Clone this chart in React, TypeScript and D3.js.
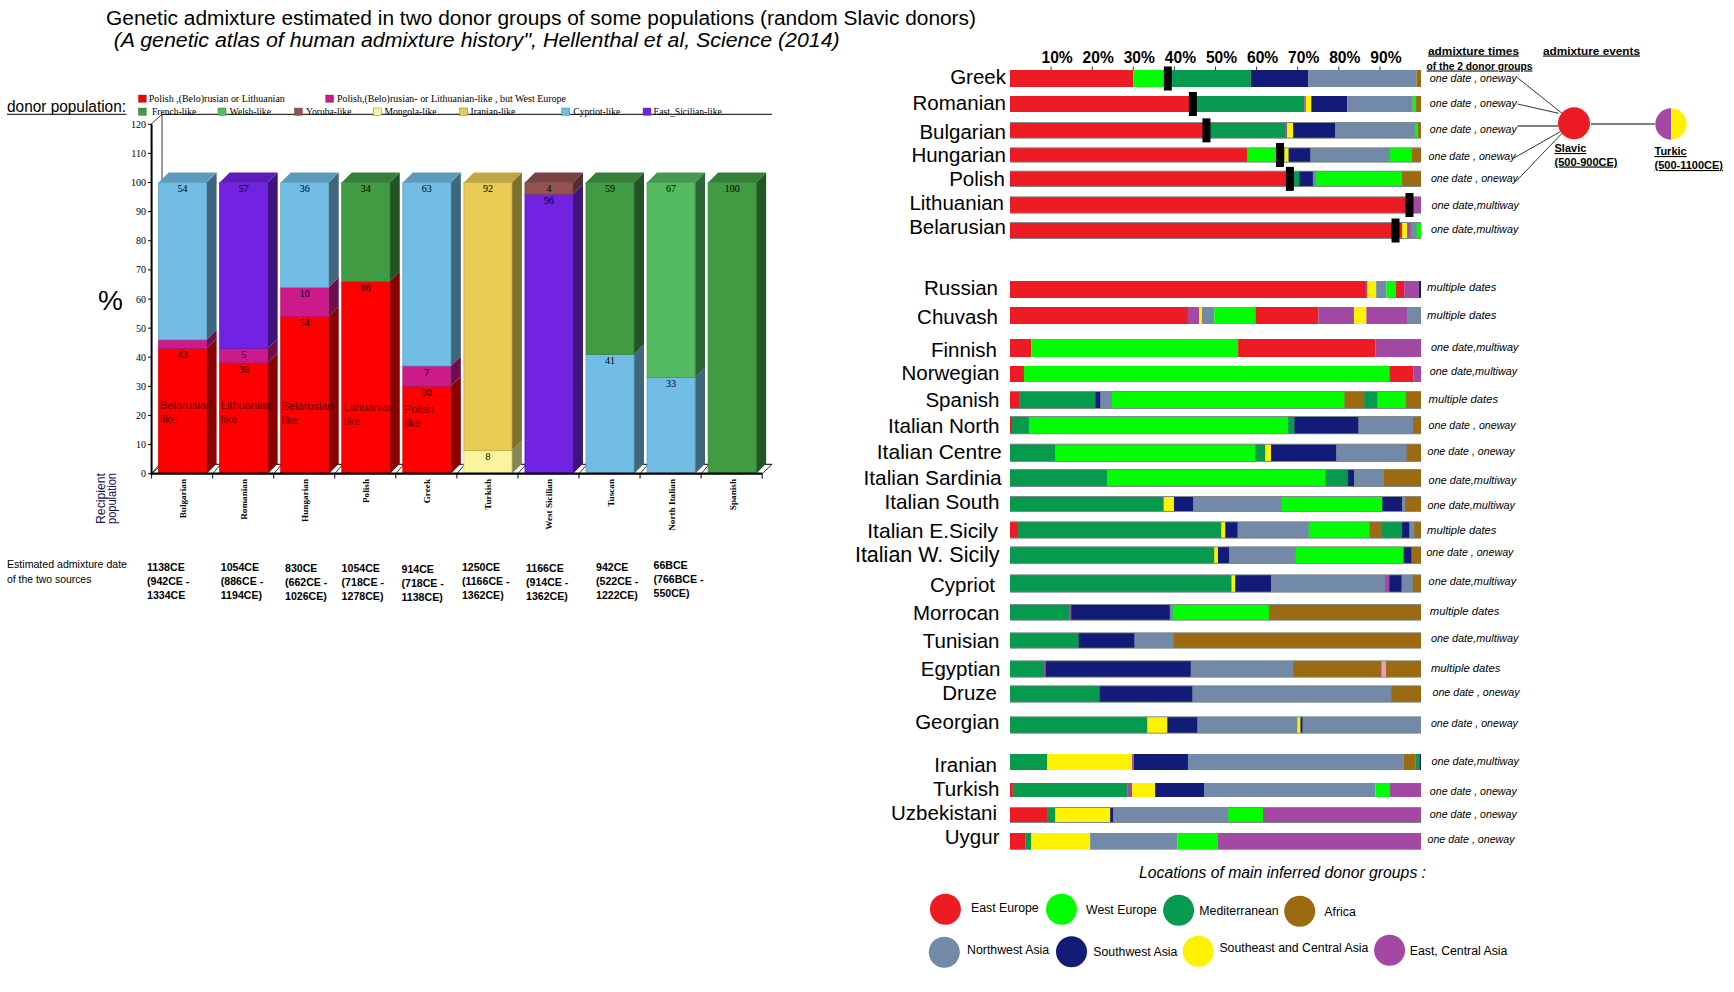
import React from "react";
import * as d3 from "d3";

// ---------- LEFT CHART DATA ----------
const recipients = ["Bulgarian","Romanian","Hungarian","Polish","Greek","Turkish","West Sicilian","Tuscan","North Italian","Spanish"];
const donorColors: Record<string,string> = {
  polish:"#FF0000", polishWest:"#CC1A8B", french:"#409B42", welsh:"#53BA5F", yoruba:"#945252",
  mongola:"#F8F59C", iranian:"#E8CB54", cypriot:"#71BDE6", sicilian:"#7122E2",
};
const stackBulgarian: [string,number,boolean][] = [["polish",43,true],["polishWest",3,false],["cypriot",54,true]];
const stackRomanian: [string,number,boolean][] = [["polish",38,true],["polishWest",5,true],["sicilian",57,true]];
const stackHungarian: [string,number,boolean][] = [["polish",54,true],["polishWest",10,true],["cypriot",36,true]];
const stackPolish: [string,number,boolean][] = [["polish",66,true],["french",34,true]];
const stackGreek: [string,number,boolean][] = [["polish",30,true],["polishWest",7,true],["cypriot",63,true]];
const stackTurkish: [string,number,boolean][] = [["mongola",8,true],["iranian",92,true]];
const stackWestSicilian: [string,number,boolean][] = [["sicilian",96,true],["yoruba",4,true]];
const stackTuscan: [string,number,boolean][] = [["cypriot",41,true],["french",59,true]];
const stackNorthItalian: [string,number,boolean][] = [["cypriot",33,true],["welsh",67,true]];
const stackSpanish: [string,number,boolean][] = [["french",100,true]];
const stacks = [stackBulgarian,stackRomanian,stackHungarian,stackPolish,stackGreek,stackTurkish,stackWestSicilian,stackTuscan,stackNorthItalian,stackSpanish];
const yTicks = [0,10,20,30,40,50,60,70,80,90,100,110,120];

const likeLabels: [string,number,number][] = [["Belarusian",160,405],["Lithuanian",220.8,405],["Belarusian",281.7,406],["Lithuanian",343.8,407],["Polish",404,409]];
const dateTexts = [
  ["1138CE","(942CE -","1334CE"],["1054CE","(886CE -","1194CE)"],["830CE","(662CE -","1026CE)"],
  ["1054CE","(718CE -","1278CE)"],["914CE","(718CE -","1138CE)"],["1250CE","(1166CE -","1362CE)"],
  ["1166CE","(914CE -","1362CE)"],["942CE","(522CE -","1222CE)"],["66BCE","(766BCE -","550CE)"],
];
const dateX = [147,220.8,285,341.6,401.5,461.9,526,596,653.5];
const dateY = [567.3,567.3,568,568,569.3,567.3,568,567.3,565.3];
const legendRow1: [string,string,number,number,number][] = [
  ["polish","Polish ,(Belo)rusian  or Lithuanian",138.4,148.8,136],
  ["polishWest","Polish,(Belo)rusian- or Lithuanian-like , but West Europe",325.7,337,229],
];
const legendRow2: [string,string,number,number][] = [
  ["french","French-like",138.4,152],["welsh","Welsh-like",218,229.6],["yoruba","Yoruba-like",294.4,306],
  ["mongola","Mongola-like",373.4,384.4],["iranian","Iranian-like",459.7,470.6],["cypriot","Cypriot-like",561.8,573.3],
  ["sicilian","East_Sicilian-like",643,653.5],
];

// ---------- RIGHT CHART DATA (cumulative % end of each block) ----------
const groupColors: Record<string,string> = {
  EE:"#ED1C24", WE:"#00FF00", ME:"#069A4E", AF:"#9C6A10", NW:"#7389A8", SW:"#121C78", SE:"#FFF200", EC:"#A349A4", PK:"#F09AC0",
};
type Stop = [string, number];
const greek: Stop[] = [["EE",30],["WE",38.4],["ME",58.6],["SW",72.6],["NW",98.9],["AF",100]];
const romanian: Stop[] = [["EE",44.5],["ME",71.6],["EC",72],["SE",73.3],["SW",82.1],["NW",98],["WE",98.8],["AF",100]];
const bulgarian: Stop[] = [["EE",47.8],["ME",67],["EC",67.4],["SE",68.9],["SW",79.1],["NW",98.5],["WE",99.3],["AF",100]];
const hungarian: Stop[] = [["EE",57.7],["WE",65.7],["ME",66.8],["SE",67.8],["SW",73.1],["NW",92.4],["WE",97.8],["AF",100]];
const polish: Stop[] = [["EE",68.1],["ME",70.4],["SW",73.7],["NW",74.5],["WE",95.4],["AF",100]];
const lithuanian: Stop[] = [["EE",98],["EC",100]];
const belarusian: Stop[] = [["EE",95.4],["SE",96.6],["EC",97.5],["NW",98.9],["WE",100]];
const russian: Stop[] = [["EE",86.6],["EC",87],["SE",89.1],["NW",91.6],["WE",93.8],["EE",95.9],["EC",99.5],["SW",100]];
const chuvash: Stop[] = [["EE",43.3],["EC",46],["SE",46.7],["NW",49.7],["WE",59.7],["EE",75],["EC",83.7],["SE",86.7],["EC",96.6],["NW",100]];
const finnish: Stop[] = [["EE",5.2],["WE",55.5],["EE",88.9],["EC",100]];
const norwegian: Stop[] = [["EE",3.4],["WE",92.3],["EE",98.1],["EC",100]];
const spanish: Stop[] = [["EE",2.3],["ME",20.8],["SW",22],["NW",24.8],["WE",81.4],["AF",86.2],["ME",89.4],["WE",96.3],["AF",100]];
const italianNorth: Stop[] = [["EE",0.5],["ME",4.6],["WE",67.7],["ME",69.2],["SW",84.8],["NW",98.1],["AF",100]];
const italianCentre: Stop[] = [["ME",11],["WE",59.7],["ME",62.1],["SE",63.5],["SW",79.4],["NW",96.5],["AF",100]];
const italianSardinia: Stop[] = [["ME",23.6],["WE",76.8],["ME",82.2],["SW",83.7],["NW",91],["AF",100]];
const italianSouth: Stop[] = [["ME",37.4],["SE",39.9],["SW",44.6],["NW",66.1],["WE",90.6],["SW",95.4],["NW",96.2],["AF",100]];
const italianESicily: Stop[] = [["EE",2],["ME",51.4],["SE",52.4],["SW",55.4],["NW",72.7],["WE",87.5],["AF",90.4],["ME",95.4],["SW",97.2],["NW",98.4],["AF",100]];
const italianWSicily: Stop[] = [["ME",49.7],["SE",50.6],["SW",53.3],["NW",69.5],["WE",95.8],["SW",97.7],["AF",100]];
const cypriot: Stop[] = [["ME",53.9],["SE",54.8],["SW",63.5],["NW",91.3],["EC",92.3],["SW",95.3],["NW",98],["AF",100]];
const morrocan: Stop[] = [["ME",14.5],["EC",14.9],["SW",38.9],["NW",39.6],["WE",63],["AF",100]];
const tunisian: Stop[] = [["ME",16.7],["SW",30.3],["NW",39.8],["AF",100]];
const egyptian: Stop[] = [["ME",8.3],["EC",8.7],["SW",44],["NW",68.9],["AF",90.4],["PK",91.5],["AF",100]];
const druze: Stop[] = [["ME",21.8],["SW",44.4],["NW",92.8],["AF",100]];
const georgian: Stop[] = [["ME",33.4],["SE",38.3],["SW",45.6],["NW",69.9],["SE",70.7],["SW",71.2],["NW",100]];
const iranian: Stop[] = [["ME",9],["SE",29.7],["EC",30.1],["SW",43.3],["NW",95.7],["AF",98.6],["ME",99.6],["SW",100]];
const turkish: Stop[] = [["EE",0.7],["ME",28.5],["EC",29.7],["SE",35.3],["SW",47.2],["NW",88.9],["WE",92.3],["EC",100]];
const uzbekistani: Stop[] = [["EE",9.1],["ME",11],["SE",24.4],["SW",25.1],["NW",53.1],["WE",61.6],["EC",100]];
const uygur: Stop[] = [["EE",3.7],["ME",5.2],["SE",19.5],["NW",40.7],["WE",50.6],["EC",100]];

const populations = ["Greek","Romanian","Bulgarian","Hungarian","Polish","Lithuanian","Belarusian","Russian","Chuvash","Finnish","Norwegian","Spanish","Italian North","Italian Centre","Italian Sardinia","Italian South","Italian E.Sicily","Italian W. Sicily","Cypriot","Morrocan","Tunisian","Egyptian","Druze","Georgian","Iranian","Turkish","Uzbekistani","Uygur"];
const popStops = [greek,romanian,bulgarian,hungarian,polish,lithuanian,belarusian,russian,chuvash,finnish,norwegian,spanish,italianNorth,italianCentre,italianSardinia,italianSouth,italianESicily,italianWSicily,cypriot,morrocan,tunisian,egyptian,druze,georgian,iranian,turkish,uzbekistani,uygur];
const ONE = "one date , oneway", MUL = "one date,multiway", MD = "multiple dates";
const popTimes = [ONE,ONE,ONE,ONE,ONE,MUL,MUL,MD,MD,MUL,MUL,MD,ONE,ONE,MUL,MUL,MD,ONE,MUL,MD,MUL,MD,ONE,ONE,MUL,ONE,ONE,ONE];
const timeWidth: Record<string,number> = { [ONE]:87, [MUL]:87.5, [MD]:69.5 };
const markers = [38.4,44.5,47.8,65.7,68.1,97.2,93.8];
const pctTicks = [10,20,30,40,50,60,70,80,90];

// layout of the irregular rows
const rowTop = [70,96,122,147.3,170.7,196.3,222,281,307,339,366,391,416,443.7,469,496,521.3,546.3,574.3,604,632.3,660.3,685.3,716.3,754,783,807,833];
const rowBottom = [87,112,138.7,162.7,187,213.7,239,298,324,357,382,409,434.3,462,487,512,538.7,564,592.7,620.7,648.7,677.7,702.7,733.7,770,797,823,849.7];
const rowEdged = [false,false,true,true,true,true,true,false,false,false,false,true,true,true,true,true,true,true,true,true,true,true,true,true,false,false,true,false];
const labelRight = [1006,1006,1006,1006,1005,1004,1006,998,998,997,999.5,999.5,999.5,1001.7,1001.7,999.5,998,999.5,995,999.5,999.5,1000.5,997,999.5,997,999.5,997,999.5];
const labelSize = [20.5,20.5,20.5,20.5,20.5,20.5,20.5,20.5,20.5,20.5,20.5,20.5,20.7,21,20.9,20.7,21,21.5,20.5,20.5,20.5,20.5,20.5,20.5,20.5,20.5,20.5,20.5];
const labelY = [77,103,132,155,179,203,227,288,317,350,373,400,426,452,478,502,531,555,585,613,641,669,693,722,765,789,813,837];
const timeX = [1429.8,1429.8,1429.8,1428.6,1430.9,1431.4,1430.9,1427,1427,1430.9,1429.8,1428.6,1428.6,1427.5,1428.6,1427.5,1427,1426.4,1428.6,1429.8,1430.9,1430.9,1432.5,1430.9,1431.4,1429.8,1429.8,1427.5];
const timeY = [77.7,102.7,128.7,155.7,177.7,204.7,228.7,287.3,315.3,347.3,371.3,399.3,425.3,451.3,480.3,504.7,530.3,552.3,581.3,611.3,638.3,668.3,691.7,723.3,761.3,791.3,814.3,839.3];
const spokes: [number,number,number,number][] = [
  [1517.4,77.7,1562,113.3],[1517.4,104,1558.6,113.3],[1517.4,126,1558.6,126],[1514,158,1560.3,131.7],[1515.7,181.7,1562,133.3],
];
const donorLegend: [string,string,number,number,number,number][] = [
  ["EE","East Europe",945.4,909.3,971,907.7],["WE","West Europe",1061.5,909.3,1086,909.7],["ME","Mediterranean",1178.6,910.3,1199.3,910.7],["AF","Africa",1299.7,911.3,1324.3,911.7],
  ["NW","Northwest Asia",944.3,952.3,967.1,949.7],["SW","Southwest Asia",1071.5,951.7,1093.3,951.7],["SE","Southeast and Central Asia",1198.2,951.3,1219.4,947.7],["EC","East, Central Asia",1389.6,950.3,1409.7,950.7],
];

const SANS = "'Liberation Sans', Arial, sans-serif";
const SERIF = "'Liberation Serif', 'Times New Roman', serif";

const barY = d3.scaleLinear().domain([0,120]).range([473.7,124.3]);
const barX = d3.scaleBand<string>().domain(recipients).range([151.6,762.2]);
const pctX = d3.scaleLinear().domain([0,100]).range([1010,1421]);

const BAR_INSET = 7, BAR_W = 48, DX = 10, DY = 10;

function Bar3D({ name, stack }: { name: string; stack: [string,number,boolean][] }) {
  const x0 = (barX(name) as number) + BAR_INSET;
  const x1 = x0 + BAR_W;
  const ends = d3.cumsum(stack.map(s => s[1]));
  return (
    <g>
      {stack.map(([key,val,showLabel],i) => {
        const yB = barY(ends[i]-val), yT = barY(ends[i]);
        const base = d3.rgb(donorColors[key]);
        const side = base.darker(1.7).formatHex();
        const edge = base.darker(0.5).formatHex();
        return (
          <g key={i}>
            <path d={`M${x1},${yB}L${x1+DX},${yB-DY}L${x1+DX},${yT-DY}L${x1},${yT}Z`} fill={side} />
            <rect x={x0} y={yT} width={BAR_W} height={yB-yT} fill={donorColors[key]} stroke={edge} strokeWidth={0.8} />
            {i===stack.length-1 && (
              <path d={`M${x0},${yT}L${x0+DX},${yT-DY}L${x1+DX},${yT-DY}L${x1},${yT}Z`} fill={base.darker(0.55).formatHex()} />
            )}
            {showLabel && <text x={(x0+x1)/2} y={yT+9.8} textAnchor="middle" fontFamily={SERIF} fontSize={10}>{val}</text>}
          </g>
        );
      })}
    </g>
  );
}

export default function App() {
  return (
    <svg width={1734} height={992} style={{ position:"absolute", left:0, top:0, display:"block", background:"#fff" }}>
      {/* Titles */}
      <text x={106} y={25} fontFamily={SANS} fontSize={20} textLength={870} lengthAdjust="spacingAndGlyphs">Genetic admixture estimated in two donor groups of some populations (random Slavic donors)</text>
      <text x={113.7} y={47} fontFamily={SANS} fontSize={20} fontStyle="italic" textLength={726} lengthAdjust="spacingAndGlyphs">(A genetic atlas of human admixture history", Hellenthal et al, Science (2014)</text>

      {/* Left chart frame */}
      <text x={7} y={112} fontFamily={SANS} fontSize={16} textLength={119} lengthAdjust="spacingAndGlyphs">donor population:</text>
      <line x1={7} x2={126.5} y1={114.3} y2={114.3} stroke="#000" />
      <line x1={162} x2={772} y1={114.3} y2={114.3} stroke="#000" />
      <line x1={162} x2={162} y1={114.3} y2={182.5} stroke="#000" strokeWidth={0.8} />
      <line x1={151} x2={162} y1={124.3} y2={114.3} stroke="#000" strokeWidth={0.8} />
      <line x1={158} x2={772} y1={464.3} y2={464.3} stroke="#000" strokeWidth={1} />
      <line x1={151.6} x2={162} y1={473.7} y2={464.3} stroke="#000" strokeWidth={0.8} />
      <line x1={762.2} x2={772} y1={473.7} y2={464.3} stroke="#000" strokeWidth={0.8} />
      {recipients.map(r => {
        const x = barX(r) as number;
        return <line key={r} x1={x} x2={x+8} y1={473.7} y2={464.3} stroke="#000" strokeWidth={0.8} />;
      })}

      {recipients.map((r,i) => <Bar3D key={r} name={r} stack={stacks[i]} />)}

      {/* Axes */}
      <line x1={151.6} x2={151.6} y1={barY(120)} y2={barY(0)+1} stroke="#000" strokeWidth={2} />
      <line x1={150.6} x2={762.2} y1={barY(0)} y2={barY(0)} stroke="#000" strokeWidth={2.2} />
      {yTicks.map(t => (
        <g key={t}>
          <line x1={148} x2={151.6} y1={barY(t)} y2={barY(t)} stroke="#000" />
          <text x={146} y={barY(t)+3.5} textAnchor="end" fontFamily={SERIF} fontSize={10}>{t}</text>
        </g>
      ))}
      {recipients.concat("end").map((r,i) => {
        const x = 151.6 + i*barX.bandwidth();
        return <line key={r} x1={x} x2={x} y1={473.7} y2={478.5} stroke="#000" />;
      })}
      {recipients.map(r => {
        const cx = (barX(r) as number) + barX.bandwidth()/2 + 1;
        return <text key={r} transform={`translate(${cx+3},479) rotate(-90)`} textAnchor="end" fontFamily={SERIF} fontSize={9.2} fontWeight="bold">{r}</text>;
      })}

      {/* Left legend */}
      {legendRow1.map(([k,t,sx,tx,w]) => (
        <g key={t}>
          <rect x={sx} y={95} width={8} height={7.4} fill={donorColors[k]} stroke="#555" strokeWidth={0.4} />
          <text x={tx} y={101.8} fontFamily={SERIF} fontSize={9.6} textLength={w} lengthAdjust="spacingAndGlyphs">{t}</text>
        </g>
      ))}
      {legendRow2.map(([k,t,sx,tx]) => (
        <g key={t}>
          <rect x={sx} y={108} width={8} height={7.4} fill={donorColors[k]} stroke="#555" strokeWidth={0.4} />
          <text x={tx} y={114.8} fontFamily={SERIF} fontSize={9.6}>{t}</text>
        </g>
      ))}

      <text x={98} y={309.5} fontFamily={SANS} fontSize={28}>%</text>
      <g fontFamily={SANS} fontSize={12} fill="#1a1050">
        <text transform="translate(105,524) rotate(-90)" textLength={51} lengthAdjust="spacingAndGlyphs">Recipient</text>
        <text transform="translate(115.5,524) rotate(-90)" textLength={51} lengthAdjust="spacingAndGlyphs">population</text>
      </g>
      {likeLabels.map(([t,x,y],i) => (
        <g key={i} fontFamily={SANS} fontSize={11} fill="#5a0000">
          <text x={x} y={y+4}>{t}</text>
          <text x={x} y={y+18}>like</text>
        </g>
      ))}

      {/* Dates */}
      <text x={7} y={568} fontFamily={SANS} fontSize={10.4} textLength={120} lengthAdjust="spacingAndGlyphs">Estimated admixture date</text>
      <text x={7} y={582.7} fontFamily={SANS} fontSize={10.4}>of the two sources</text>
      {dateTexts.map((lines,i) => lines.map((l,j) => (
        <text key={`${i}${j}`} x={dateX[i]} y={dateY[i]+j*14+4} fontFamily={SANS} fontSize={10.6} fontWeight="bold">{l}</text>
      )))}

      {/* Right chart */}
      {pctTicks.map(t => (
        <g key={t}>
          <line x1={pctX(t)} x2={pctX(t)} y1={66.5} y2={70} stroke="#000" strokeWidth={0.8} />
          <text x={pctX(t)+6} y={62.5} textAnchor="middle" fontFamily={SANS} fontSize={15.6} fontWeight="bold">{t}%</text>
        </g>
      ))}
      {populations.map((p,i) => {
        const edged = rowEdged[i];
        const inset = edged ? 1 : 0;
        const stops = popStops[i];
        return (
          <g key={p}>
            {edged && <rect x={pctX(0)} y={rowTop[i]} width={pctX(100)-pctX(0)} height={rowBottom[i]-rowTop[i]} fill="#808a8a" />}
            {stops.map(([k,end],j) => {
              const start = j===0 ? 0 : stops[j-1][1];
              return <rect key={j} x={pctX(start)} y={rowTop[i]+inset} width={pctX(end)-pctX(start)} height={rowBottom[i]-rowTop[i]-2*inset} fill={groupColors[k]} />;
            })}
            <text x={labelRight[i]} y={labelY[i]+7} textAnchor="end" fontFamily={SANS} fontSize={labelSize[i]}>{p}</text>
            <text x={timeX[i]} y={timeY[i]+4} fontFamily={SANS} fontSize={11.2} fontStyle="italic" textLength={timeWidth[popTimes[i]]} lengthAdjust="spacingAndGlyphs">{popTimes[i]}</text>
          </g>
        );
      })}
      {markers.map((m,i) => (
        <rect key={i} x={pctX(m)-4} y={(rowTop[i]+rowBottom[i])/2-12} width={8} height={24} fill="#000" />
      ))}

      {/* Admixture events */}
      <g fontFamily={SANS} fontSize={11} fontWeight="bold" textDecoration="underline">
        <text x={1428} y={54.5} textLength={91} lengthAdjust="spacingAndGlyphs">admixture times</text>
        <text x={1426.5} y={69.5} fontSize={10.2} textLength={106} lengthAdjust="spacingAndGlyphs">of the 2 donor groups</text>
        <text x={1543} y={54.5} textLength={97} lengthAdjust="spacingAndGlyphs">admixture events</text>
        <text x={1554.5} y={152}>Slavic</text>
        <text x={1554.5} y={165.5}>(500-900CE)</text>
        <text x={1654.5} y={155}>Turkic</text>
        <text x={1654.5} y={169}>(500-1100CE)</text>
      </g>
      {spokes.map(([x1,y1,x2,y2],i) => <line key={i} x1={x1} y1={y1} x2={x2} y2={y2} stroke="#000" strokeWidth={i===2?1.2:0.8} />)}
      <line x1={1591} x2={1655} y1={124} y2={124} stroke="#000" strokeWidth={1.2} />
      <circle cx={1574} cy={123.3} r={16} fill={groupColors.EE} />
      <path d={d3.arc()({ innerRadius:0, outerRadius:15.7, startAngle:Math.PI, endAngle:2*Math.PI }) as string} transform="translate(1671,124)" fill={groupColors.EC} />
      <path d={d3.arc()({ innerRadius:0, outerRadius:15.7, startAngle:0, endAngle:Math.PI }) as string} transform="translate(1671,124)" fill={groupColors.SE} />

      {/* Donor legend */}
      <text x={1139} y={878} fontFamily={SANS} fontSize={16} fontStyle="italic" textLength={287} lengthAdjust="spacingAndGlyphs">Locations of main inferred donor groups :</text>
      {donorLegend.map(([k,t,cx,cy,tx,ty]) => (
        <g key={k}>
          <circle cx={cx} cy={cy} r={15.5} fill={groupColors[k]} />
          <text x={tx} y={ty+4.5} fontFamily={SANS} fontSize={12.3}>{t}</text>
        </g>
      ))}
    </svg>
  );
}
